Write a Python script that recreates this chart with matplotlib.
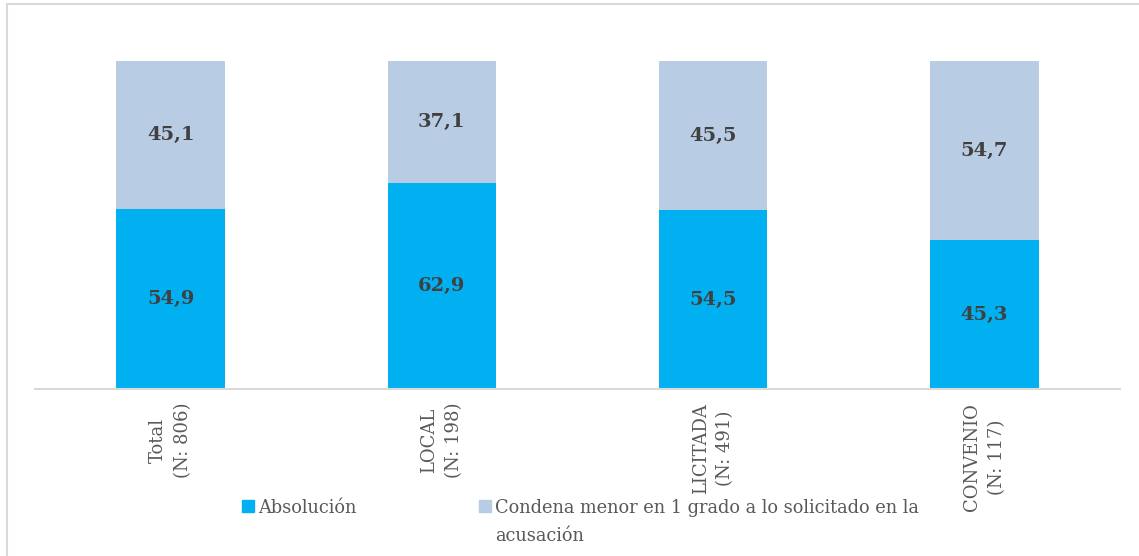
import matplotlib.pyplot as plt
from matplotlib.patches import Rectangle

categories = ["Total\n(N: 806)", "LOCAL\n(N: 198)", "LICITADA\n(N: 491)", "CONVENIO\n(N: 117)"]
absolucion = [54.9, 62.9, 54.5, 45.3]
condena = [45.1, 37.1, 45.5, 54.7]
series_names = ["Absolución", "Condena menor en 1 grado a lo solicitado en la\nacusación"]

COL_ABS = "#00B0F0"
COL_CON = "#B8CCE4"
TXT_VAL = "#404040"
TXT_AX = "#595959"
GRID = "#D9D9D9"

plt.rcParams["font.family"] = ["DejaVu Serif"]

W, H = 1139, 556
fig = plt.figure(figsize=(W / 100, H / 100), dpi=100)
fig.patch.set_facecolor("white")

# outer frame (open to the right and bottom)
fig.patches.append(Rectangle((6.5 / W, -0.1), 1.2, 1.1 - 3.5 / H,
                             transform=fig.transFigure, fill=False,
                             edgecolor=GRID, linewidth=1.5, zorder=0))

ax = fig.add_axes([35 / W, (H - 389) / H, (1120 - 35) / W, (389 - 61) / H])
x = list(range(len(categories)))
b1 = ax.bar(x, absolucion, width=0.4, color=COL_ABS, zorder=2)
b2 = ax.bar(x, condena, width=0.4, bottom=absolucion, color=COL_CON, zorder=2)

for bars, vals, base in ((b1, absolucion, [0] * 4), (b2, condena, absolucion)):
    for rect, v, b0 in zip(bars, vals, base):
        ax.text(rect.get_x() + rect.get_width() / 2, b0 + v / 2,
                f"{v:.1f}".replace(".", ","), ha="center", va="center",
                fontsize=14, fontweight="bold", color=TXT_VAL)

ax.set_xlim(-0.5, len(categories) - 0.5)
ax.set_ylim(0, 100)
ax.set_yticks([])
ax.set_xticks(x)
ax.set_xticklabels(categories, rotation=90, ha="center", va="top",
                   multialignment="center", fontsize=13, color=TXT_AX,
                   linespacing=1.48)
ax.tick_params(axis="x", length=0, pad=10)
for s in ("left", "right", "top"):
    ax.spines[s].set_visible(False)
ax.spines["bottom"].set_color(GRID)
ax.spines["bottom"].set_linewidth(1.5)

# legend drawn below the categories
sq = 12
for (lx, tx), name, col in zip(((242, 258), (479, 495)), series_names, (COL_ABS, COL_CON)):
    fig.patches.append(Rectangle((lx / W, (H - 512) / H), sq / W, sq / H,
                                 transform=fig.transFigure, color=col, zorder=3))
    fig.text(tx / W, (H - 499) / H, name, ha="left", va="top",
             fontsize=12.8, color=TXT_AX, linespacing=1.7)

fig.savefig("out.png", dpi=100)
